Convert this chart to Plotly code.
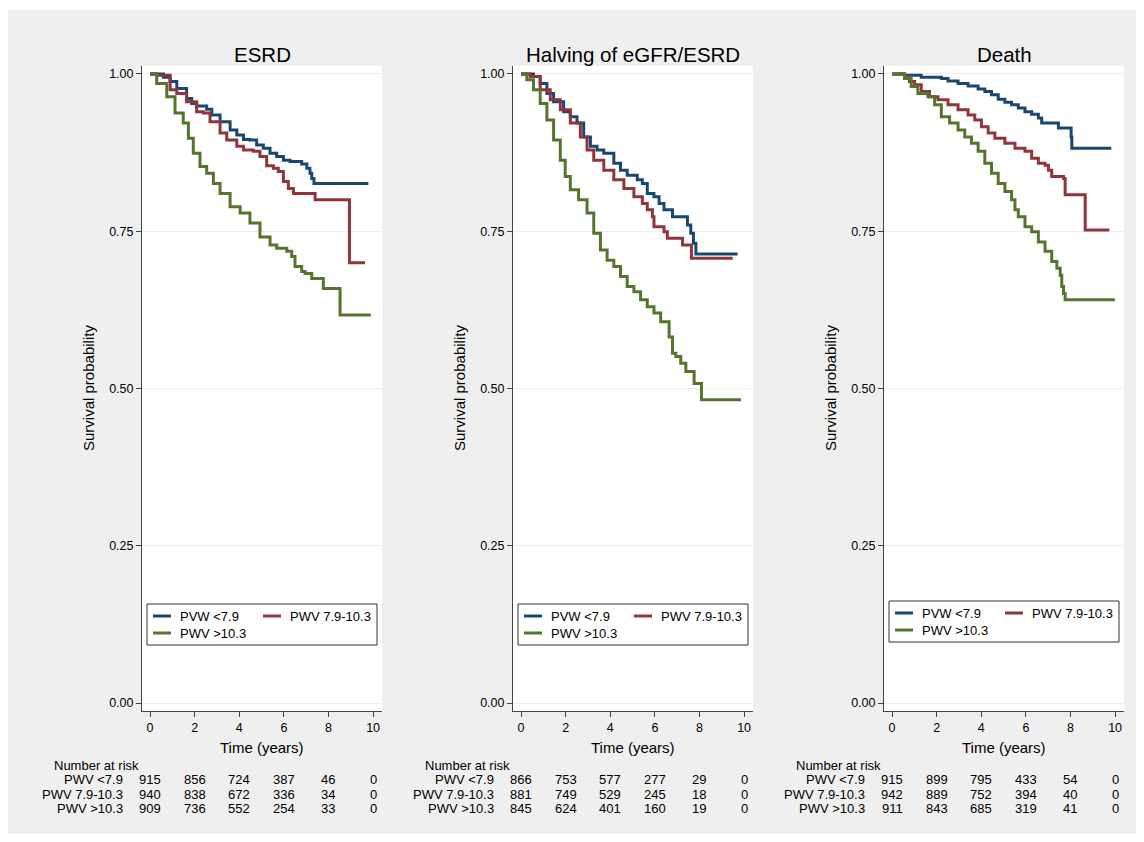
import plotly.graph_objects as go

# ---------------- data ----------------
panel_titles = ["ESRD", "Halving of eGFR/ESRD", "Death"]
legend_names = ["PVW <7.9", "PWV 7.9-10.3", "PWV >10.3"]
risk_labels = ["PWV <7.9", "PWV 7.9-10.3", "PWV >10.3"]
risk_times = [0, 2, 4, 6, 8, 10]

# Panel 1: ESRD
esrd_blue_t = [0, 0.60, 0.90, 1.20, 1.64, 1.87, 2.09, 2.54, 2.77, 3.14, 3.59, 3.89, 4.19, 4.48, 4.78, 5.08, 5.38, 5.68, 5.98, 6.28, 6.80, 7.03, 7.17, 7.25, 7.35, 9.79]
esrd_blue_s = [1.0, 0.995, 0.988, 0.977, 0.961, 0.953, 0.949, 0.944, 0.935, 0.924, 0.911, 0.903, 0.896, 0.895, 0.887, 0.882, 0.874, 0.869, 0.863, 0.861, 0.857, 0.850, 0.842, 0.834, 0.826, 0.826]
esrd_red_t = [0, 0.30, 0.90, 1.20, 1.64, 2.09, 2.39, 2.69, 3.14, 3.44, 3.89, 4.19, 4.63, 4.93, 5.23, 5.53, 5.75, 5.98, 6.20, 6.43, 7.40, 8.94, 9.64]
esrd_red_s = [1.0, 0.998, 0.975, 0.969, 0.956, 0.940, 0.938, 0.924, 0.906, 0.895, 0.885, 0.879, 0.877, 0.869, 0.854, 0.850, 0.845, 0.829, 0.818, 0.810, 0.800, 0.700, 0.700]
esrd_green_t = [0, 0.30, 0.75, 1.12, 1.49, 1.72, 1.94, 2.24, 2.54, 2.84, 3.14, 3.59, 4.04, 4.48, 4.93, 5.38, 5.68, 6.13, 6.35, 6.50, 6.80, 6.95, 7.25, 7.77, 8.52, 9.90]
esrd_green_s = [1.0, 0.985, 0.964, 0.938, 0.922, 0.898, 0.874, 0.853, 0.842, 0.826, 0.810, 0.789, 0.779, 0.763, 0.741, 0.728, 0.723, 0.718, 0.710, 0.694, 0.686, 0.683, 0.675, 0.659, 0.617, 0.617]

# Panel 2: Halving of eGFR/ESRD
egfr_blue_t = [0, 0.56, 0.86, 1.16, 1.46, 1.91, 2.21, 2.51, 2.81, 3.11, 3.41, 3.71, 4.16, 4.46, 4.76, 5.21, 5.44, 5.66, 5.96, 6.19, 6.41, 6.79, 7.46, 7.61, 7.73, 7.84, 9.71]
egfr_blue_s = [1.0, 0.996, 0.985, 0.969, 0.956, 0.940, 0.932, 0.922, 0.900, 0.885, 0.879, 0.874, 0.858, 0.847, 0.839, 0.832, 0.826, 0.810, 0.805, 0.794, 0.784, 0.773, 0.760, 0.747, 0.731, 0.714, 0.714]
egfr_red_t = [0, 0.41, 0.86, 1.31, 1.76, 2.21, 2.66, 2.96, 3.26, 3.71, 4.16, 4.61, 5.06, 5.44, 5.66, 5.89, 5.96, 6.41, 6.56, 7.24, 7.64, 9.49]
egfr_red_s = [1.0, 0.996, 0.975, 0.959, 0.943, 0.922, 0.900, 0.879, 0.863, 0.847, 0.832, 0.818, 0.805, 0.794, 0.784, 0.773, 0.757, 0.749, 0.739, 0.728, 0.707, 0.707]
egfr_green_t = [0, 0.26, 0.56, 0.86, 1.16, 1.46, 1.76, 1.98, 2.21, 2.58, 2.96, 3.26, 3.56, 3.86, 4.16, 4.46, 4.76, 5.06, 5.36, 5.66, 5.96, 6.26, 6.64, 6.79, 6.94, 7.16, 7.39, 7.76, 8.09, 9.86]
egfr_green_s = [1.0, 0.991, 0.975, 0.953, 0.927, 0.895, 0.863, 0.837, 0.816, 0.800, 0.779, 0.747, 0.720, 0.704, 0.694, 0.678, 0.662, 0.654, 0.641, 0.630, 0.620, 0.606, 0.582, 0.556, 0.551, 0.540, 0.527, 0.508, 0.482, 0.482]

# Panel 3: Death
death_blue_t = [0, 0.56, 1.31, 2.21, 2.51, 2.96, 3.41, 3.86, 4.16, 4.46, 4.76, 5.06, 5.36, 5.66, 5.96, 6.26, 6.56, 6.71, 7.46, 8.03, 8.06, 9.83]
death_blue_s = [1.0, 0.998, 0.995, 0.993, 0.989, 0.985, 0.981, 0.976, 0.972, 0.967, 0.960, 0.955, 0.951, 0.946, 0.940, 0.936, 0.930, 0.922, 0.914, 0.900, 0.882, 0.882]
death_red_t = [0, 0.56, 0.78, 1.01, 1.31, 1.68, 2.06, 2.51, 2.96, 3.41, 3.71, 4.01, 4.31, 4.61, 5.06, 5.51, 5.96, 6.26, 6.56, 6.86, 7.01, 7.16, 7.69, 7.76, 8.66, 9.74]
death_red_s = [1.0, 0.996, 0.988, 0.983, 0.972, 0.964, 0.959, 0.951, 0.943, 0.935, 0.927, 0.916, 0.906, 0.898, 0.890, 0.882, 0.877, 0.866, 0.858, 0.855, 0.847, 0.837, 0.834, 0.808, 0.752, 0.752]
death_green_t = [0, 0.56, 0.86, 1.16, 1.61, 1.91, 2.21, 2.58, 2.96, 3.26, 3.56, 3.86, 4.16, 4.46, 4.76, 5.06, 5.36, 5.51, 5.66, 5.96, 6.26, 6.56, 6.86, 7.16, 7.39, 7.54, 7.61, 7.69, 7.76, 9.99]
death_green_s = [1.0, 0.993, 0.980, 0.969, 0.964, 0.951, 0.932, 0.922, 0.911, 0.900, 0.890, 0.877, 0.858, 0.842, 0.826, 0.813, 0.800, 0.784, 0.773, 0.757, 0.749, 0.733, 0.718, 0.702, 0.691, 0.680, 0.662, 0.651, 0.641, 0.641]

# Number at risk
esrd_risk = [[915, 856, 724, 387, 46, 0], [940, 838, 672, 336, 34, 0], [909, 736, 552, 254, 33, 0]]
egfr_risk = [[866, 753, 577, 277, 29, 0], [881, 749, 529, 245, 18, 0], [845, 624, 401, 160, 19, 0]]
death_risk = [[915, 899, 795, 433, 54, 0], [942, 889, 752, 394, 40, 0], [911, 843, 685, 319, 41, 0]]

# ---------------- styling ----------------
W, H = 1128, 826          # page body has an 8px margin
OFF = 8
FONT = "Arial, Liberation Sans, sans-serif"
colors = ["#1a476f", "#90353b", "#55752f"]
AX = "#444444"

def px(x):
    return (x - OFF) / W

def py(y):
    return 1 - (y - OFF) / H

panels = [
    ([(esrd_blue_t, esrd_blue_s), (esrd_red_t, esrd_red_s), (esrd_green_t, esrd_green_s)], esrd_risk),
    ([(egfr_blue_t, egfr_blue_s), (egfr_red_t, egfr_red_s), (egfr_green_t, egfr_green_s)], egfr_risk),
    ([(death_blue_t, death_blue_s), (death_red_t, death_red_s), (death_green_t, death_green_s)], death_risk),
]
lefts = [142, 513, 884]
PW = 240
TOP, BOT = 66, 711
legend_tops = [604, 604, 601]

fig = go.Figure()
shapes = []
annotations = []

# outer gray region
shapes.append(dict(type="rect", xref="paper", yref="paper", x0=px(8), x1=px(1136), y0=max(py(835), 0), y1=py(10),
                   fillcolor="#efefef", line=dict(width=0), layer="below"))

for i, (curves, risk) in enumerate(panels):
    n = "" if i == 0 else str(i + 1)
    xa, ya = "x" + n, "y" + n
    L = lefts[i]
    for g, (t, s) in enumerate(curves):
        fig.add_trace(go.Scatter(x=t, y=s, mode="lines", line=dict(color=colors[g], width=3, shape="hv"),
                                 name=legend_names[g], showlegend=False, xaxis=xa, yaxis=ya))
    fig.layout["xaxis" + n] = dict(domain=[px(L), px(L + PW)], anchor=ya, range=[-0.36, 10.4],
                                   tickvals=risk_times, ticks="outside", ticklen=5, tickcolor=AX,
                                   showline=True, linecolor=AX, linewidth=1, showgrid=False, zeroline=False,
                                   tickfont=dict(size=12.5, color="#000", family=FONT))
    fig.layout["yaxis" + n] = dict(domain=[py(BOT), py(TOP)], anchor=xa, range=[-0.0127, 1.0127],
                                   tickvals=[0, 0.25, 0.5, 0.75, 1.0], tickformat=".2f",
                                   ticks="outside", ticklen=5, tickcolor=AX,
                                   showline=True, linecolor=AX, linewidth=1, showgrid=True,
                                   gridcolor="#e6eff1", gridwidth=1, zeroline=False,
                                   tickfont=dict(size=12.5, color="#000", family=FONT))
    # plot area background
    shapes.append(dict(type="rect", xref="paper", yref="paper", x0=px(L), x1=px(L + PW), y0=py(BOT), y1=py(TOP),
                       fillcolor="white", line=dict(width=0), layer="below"))
    # title
    annotations.append(dict(text=panel_titles[i], xref="paper", yref="paper", x=px(L + PW / 2), y=py(54),
                            showarrow=False, xanchor="center", yanchor="middle",
                            font=dict(size=20.5, color="#000", family=FONT)))
    # axis titles
    annotations.append(dict(text="Time (years)", xref="paper", yref="paper", x=px(L + PW / 2), y=py(747),
                            showarrow=False, xanchor="center", yanchor="middle",
                            font=dict(size=15, color="#000", family=FONT)))
    annotations.append(dict(text="Survival probability", xref="paper", yref="paper", x=px(L - 54), y=py(388),
                            showarrow=False, xanchor="center", yanchor="middle", textangle=-90,
                            font=dict(size=15, color="#000", family=FONT)))
    # legend box
    lt = legend_tops[i]
    shapes.append(dict(type="rect", xref="paper", yref="paper", x0=px(L + 5), x1=px(L + 235), y0=py(lt + 41), y1=py(lt),
                       fillcolor="white", line=dict(color="#333333", width=1)))
    entries = [(0, L + 11, lt + 12), (1, L + 121, lt + 12), (2, L + 11, lt + 29)]
    for g, lx, ly in entries:
        shapes.append(dict(type="line", xref="paper", yref="paper", x0=px(lx), x1=px(lx + 18), y0=py(ly), y1=py(ly),
                           line=dict(color=colors[g], width=3)))
        annotations.append(dict(text=legend_names[g], xref="paper", yref="paper", x=px(lx + 25), y=py(ly),
                                showarrow=False, xanchor="left", yanchor="middle",
                                font=dict(size=13, color="#000", family=FONT)))
    # risk table
    annotations.append(dict(text="Number at risk", xref="paper", yref="paper", x=px(L - 90), y=py(765),
                            showarrow=False, xanchor="left", yanchor="middle",
                            font=dict(size=13, color="#000", family=FONT)))
    row_y = [779, 794, 808]
    for g in range(3):
        annotations.append(dict(text=risk_labels[g], xref="paper", yref="paper", x=px(L - 17), y=py(row_y[g]),
                                showarrow=False, xanchor="right", yanchor="middle",
                                font=dict(size=13, color="#000", family=FONT)))
        for t, v in zip(risk_times, risk[g]):
            annotations.append(dict(text=str(v), xref=xa, yref="paper", x=t, y=py(row_y[g]),
                                    showarrow=False, xanchor="center", yanchor="middle",
                                    font=dict(size=13, color="#000", family=FONT)))

fig.update_layout(width=W, height=H, margin=dict(l=0, r=0, t=0, b=0), paper_bgcolor="white",
                  plot_bgcolor="rgba(0,0,0,0)", shapes=shapes, annotations=annotations,
                  showlegend=False, font=dict(family=FONT))
fig.write_html("out.html")
